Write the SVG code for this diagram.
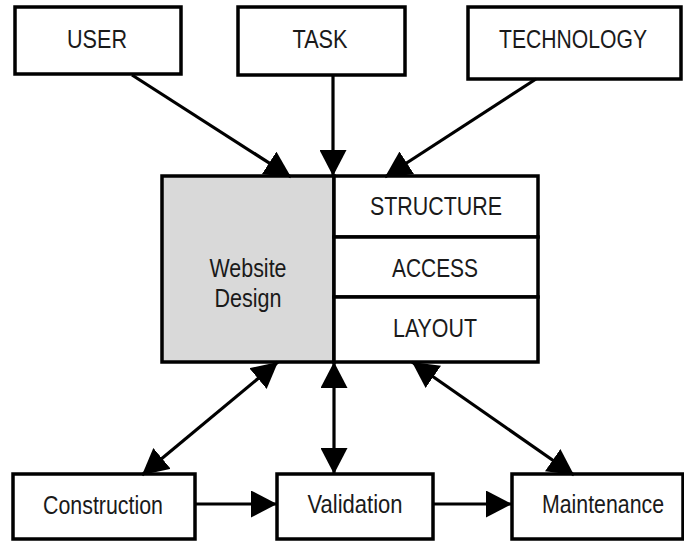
<svg xmlns="http://www.w3.org/2000/svg" width="684" height="541" viewBox="0 0 684 541">
<defs>
<marker id="ah" markerUnits="userSpaceOnUse" markerWidth="26" markerHeight="27" viewBox="0 0 26 27" refX="26" refY="13.5" orient="auto-start-reverse">
<path d="M0,0 L26,13.5 L0,27 Z" fill="#000"/>
</marker>
<style>
.box{fill:#fff;stroke:#000;stroke-width:3.5}
.lbl{font-family:"Liberation Sans",Arial,sans-serif;font-size:25px;fill:#1a1a1a;text-anchor:middle}
.c{fill:none;stroke:#000;stroke-width:3.2}
</style>
</defs>
<rect width="684" height="541" fill="#fff"/>
<g id="user"><rect class="box" x="15" y="7" width="166" height="67"/><text class="lbl" x="97" y="48" textLength="60" lengthAdjust="spacingAndGlyphs">USER</text></g>
<g id="task"><rect class="box" x="238" y="7" width="167" height="68"/><text class="lbl" x="320" y="48" textLength="55" lengthAdjust="spacingAndGlyphs">TASK</text></g>
<g id="technology"><rect class="box" x="468" y="7" width="213" height="72"/><text class="lbl" x="573" y="48" textLength="148" lengthAdjust="spacingAndGlyphs">TECHNOLOGY</text></g>
<g id="website-design">
<rect x="162" y="176" width="172" height="186" fill="#d9d9d9" stroke="#000" stroke-width="3.5"/>
<text class="lbl" x="248" y="277" textLength="77" lengthAdjust="spacingAndGlyphs">Website</text>
<text class="lbl" x="248" y="307" textLength="67" lengthAdjust="spacingAndGlyphs">Design</text>
</g>
<g id="structure"><rect class="box" x="334" y="176" width="204" height="61"/><text class="lbl" x="436" y="215" textLength="132" lengthAdjust="spacingAndGlyphs">STRUCTURE</text></g>
<g id="access"><rect class="box" x="334" y="237" width="204" height="60"/><text class="lbl" x="435" y="277" textLength="86" lengthAdjust="spacingAndGlyphs">ACCESS</text></g>
<g id="layout"><rect class="box" x="334" y="297" width="204" height="65"/><text class="lbl" x="435" y="337" textLength="84" lengthAdjust="spacingAndGlyphs">LAYOUT</text></g>
<g id="construction"><rect class="box" x="13" y="474" width="182" height="65"/><text class="lbl" x="103" y="514" textLength="120" lengthAdjust="spacingAndGlyphs">Construction</text></g>
<g id="validation"><rect class="box" x="277" y="474" width="156" height="65"/><text class="lbl" x="355" y="513" textLength="95" lengthAdjust="spacingAndGlyphs">Validation</text></g>
<g id="maintenance"><rect class="box" x="512" y="474" width="171" height="65"/><text class="lbl" x="603" y="513" textLength="122" lengthAdjust="spacingAndGlyphs">Maintenance</text></g>
<g id="connectors">
<line class="c" x1="132" y1="75" x2="291" y2="177" marker-end="url(#ah)"/>
<line class="c" x1="333" y1="75" x2="333" y2="176" marker-end="url(#ah)"/>
<line class="c" x1="536" y1="79" x2="385" y2="177" marker-end="url(#ah)"/>
<line class="c" x1="142" y1="475" x2="278" y2="362" marker-start="url(#ah)" marker-end="url(#ah)"/>
<line class="c" x1="334" y1="474" x2="334" y2="362" marker-start="url(#ah)" marker-end="url(#ah)"/>
<line class="c" x1="574" y1="475" x2="412" y2="362" marker-start="url(#ah)" marker-end="url(#ah)"/>
<line class="c" x1="195" y1="504" x2="277" y2="504" marker-end="url(#ah)"/>
<line class="c" x1="433" y1="504" x2="512" y2="504" marker-end="url(#ah)"/>
</g>
</svg>
